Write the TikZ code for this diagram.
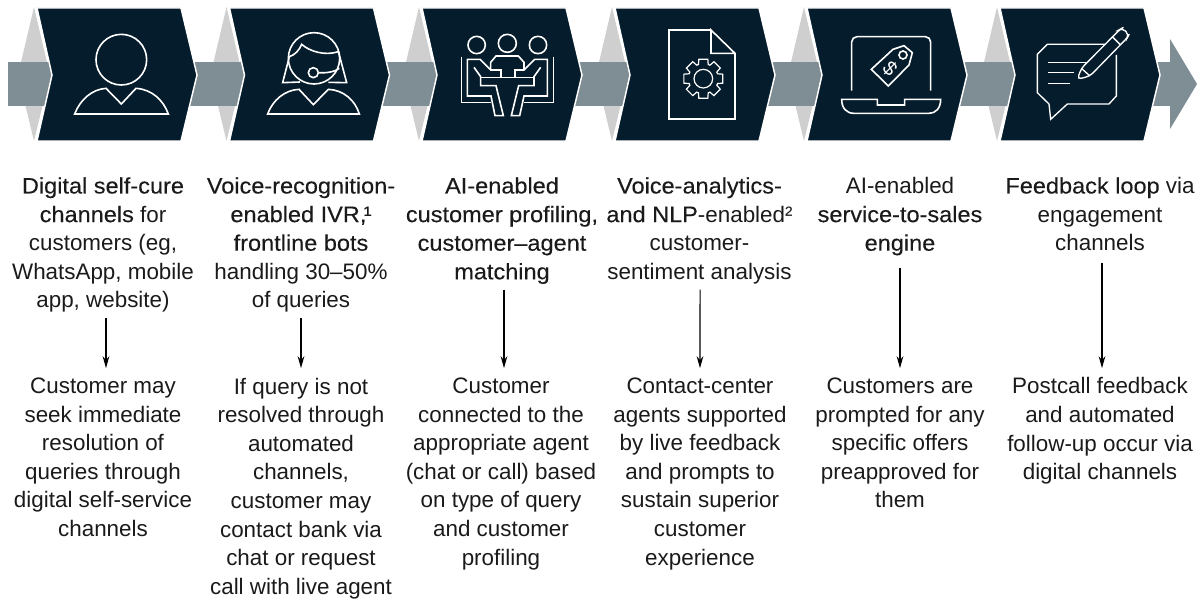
\documentclass[tikz,border=0pt]{standalone}
\usepackage{fontspec}
\usetikzlibrary{arrows.meta}
\setmainfont{Liberation Sans}
\newfontfamily\emfam{Liberation Sans}[FakeBold=0.2,FakeStretch=1.05]
\newcommand{\emf}[1]{{\emfam #1}}
\definecolor{navy}{HTML}{051C2C}
\definecolor{band}{HTML}{7F8D94}
\definecolor{tri}{HTML}{CFCFCF}
\definecolor{txt}{HTML}{1A1A1A}
\begin{document}
\begin{tikzpicture}[x=0.75pt,y=-0.75pt,
  lbl/.style={align=center,font=\fontsize{16.8}{21.45}\selectfont,text=txt,inner sep=0pt,anchor=north},
  arr/.style={-{Stealth[length=9pt,width=5pt]},line width=0.8pt,black},
  ic/.style={draw=white,line width=1.2pt,line join=miter},
  zoomed/.style={x=0.25pt,y=-0.25pt}]
\useasboundingbox (0,0) rectangle (1204,599);
\foreach \o in {0,192.5,385,578,770,963}{
  \begin{scope}[xshift=\o*0.75pt]
  \fill[tri] (34,7)--(18,75)--(34,141)--(50,75)--cycle;
  \end{scope}}
\fill[band] (8,62) rectangle (1170,106.5);
\fill[band] (1170,39)--(1197,84)--(1170,129)--cycle;
\foreach \o in {0,192.5,385,578,770,963}{
  \begin{scope}[xshift=\o*0.75pt]
  \fill[navy,draw=white,line width=1.1pt] (37,8)--(181,8)--(197,75)--(181,141)--(37,141)--(52,75)--cycle;
  \end{scope}}
% icon 1 and 2 (coordinates of a 3x crop at 0,0)
\begin{scope}[zoomed]
\draw[ic] (364,179) circle (76);
\draw[ic] (224,342) .. controls (240,300) and (275,268) .. (318,265)--(364,312)--(408,265) .. controls (455,268) and (490,300) .. (505,342)--cycle;
\draw[ic] (942,175) circle (77);
\draw[ic] (803,342) .. controls (818,300) and (855,270) .. (897,268)--(940,314)--(985,268) .. controls (1030,270) and (1065,300) .. (1078,342)--cycle;
\draw[ic] (900,246)--(848,248)--(868,170) .. controls (885,165) and (898,150) .. (905,133) .. controls (930,155) and (975,168) .. (1015,155)--(1018,165)--(1040,248)--(985,247);
\draw[ic] (940,218) circle (15);
\draw[ic] (955,218) .. controls (980,220) and (1005,215) .. (1018,205);
\end{scope}
% icon 3 (3x crop at 450,25)
\begin{scope}[zoomed,xshift=337.5pt,yshift=-18.75pt]
\draw[ic] (80,60) circle (26);
\draw[ic] (172,55) circle (27);
\draw[ic] (264,60) circle (26);
\draw[ic] (35,95)--(35,233)--(122,233);
\draw[ic] (310,95)--(310,233)--(222,233);
\draw[ic] (153,157)--(153,135)--(122,135)--(90,103)--(52,103)--(52,213)--(123,213)--(135,272)--(160,272)--(138,182)--(92,182)--(92,155)--(72,127);
\draw[ic] (195,157)--(195,135)--(222,135)--(254,103)--(292,103)--(292,213)--(222,213)--(209,272)--(184,272)--(206,182)--(252,182)--(252,155)--(272,127);
\draw[ic] (122,135)--(122,112)--(138,93)--(205,93)--(222,112)--(222,135);
\draw[ic] (92,157)--(252,157);
\end{scope}
% icon 4 (3x crop at 400,0)
\begin{scope}[zoomed,xshift=300pt]
\draw[ic] (933,90)--(807,90)--(807,357)--(1005,357)--(1005,160)--(933,90)--(933,160)--(1005,160);
\begin{scope}[shift={(910,236)}]
\draw[ic,line width=0.9pt] (0:28) arc[start angle=0,end angle=360,radius=28];
\draw[ic,line width=0.9pt] (-13:60) \foreach \a in {0,45,...,315}{ -- (\a-13:60) -- (\a+13:60) -- (\a+19:45) -- (\a+26:45)} -- cycle;
\end{scope}
\end{scope}
% icon 5 and 6 (3x crop at 794,0)
\begin{scope}[zoomed,xshift=595.5pt]
\draw[ic,rounded corners=4pt] (173,272)--(173,110)--(410,110)--(410,272);
\draw[ic] (143,298)--(250,298)--(250,315)--(332,315)--(332,298)--(440,298) .. controls (440,325) and (425,340) .. (405,340)--(180,340) .. controls (158,340) and (143,325) .. (143,298)--cycle;
\draw[ic] (232,208)--(297,148)--(330,137)--(355,158)--(345,195)--(283,258)--cycle;
\draw[ic] (327,165) circle (12);
\node[rotate=-45,text=white,inner sep=0pt,font=\fontsize{15}{15}\selectfont] (dollar) at (288,205) {\$};
\draw[ic,line width=1pt] (935,133)--(760,133)--(730,163)--(730,278)--(765,312)--(770,358)--(820,312)--(945,312)--(967,288)--(967,165);
\draw[ic,line width=1pt,rounded corners=3pt] (850,238)--(862,205)--(978,88)--(985,84)--(1005,104)--(1000,113)--(888,228)--cycle;
\draw[ic,line width=1pt] (955,110)--(980,135);
\draw[ic,line width=1pt] (862,205)--(888,228);
\draw[ic,line width=1pt] (762,188)--(875,188);
\draw[ic,line width=1pt] (762,218)--(840,218);
\draw[ic,line width=1pt] (762,250)--(828,250);
\end{scope}
% upper texts
\node[lbl] (t1) at (103,177) {\emf{Digital self-cure}\\\emf{channels} for\\customers (eg,\\WhatsApp, mobile\\app, website)};
\node[lbl] (t2) at (301,177) {\emf{Voice-recognition-}\\\emf{enabled IVR,\kern-0.12em¹}\\\emf{frontline bots}\\handling 30–50\%\\of queries};
\node[lbl] (t3) at (502,177) {\emf{AI-enabled}\\\emf{customer profiling,}\\\emf{customer–agent}\\\emf{matching}};
\node[lbl] (t4) at (699.5,177) {\emf{Voice-analytics-}\\\emf{and NLP}-enabled²\\customer-\\sentiment analysis};
\node[lbl] (t5) at (900,177) {AI-enabled\\\emf{service-to-sales}\\\emf{engine}};
\node[lbl] (t6) at (1100,177) {\emf{Feedback loop} via\\engagement\\channels};
% lower texts
\node[lbl] (b1) at (103,377.5) {Customer may\\seek immediate\\resolution of\\queries through\\digital self-service\\channels};
\node[lbl] (b2) at (301,377.5) {If query is not\\resolved through\\automated\\channels,\\customer may\\contact bank via\\chat or request\\call with live agent};
\node[lbl] (b3) at (501,377.5) {Customer\\connected to the\\appropriate agent\\(chat or call) based\\on type of query\\and customer\\profiling};
\node[lbl] (b4) at (700,377.5) {Contact-center\\agents supported\\by live feedback\\and prompts to\\sustain superior\\customer\\experience};
\node[lbl] (b5) at (900,377.5) {Customers are\\prompted for any\\specific offers\\preapproved for\\them};
\node[lbl] (b6) at (1100,377.5) {Postcall feedback\\and automated\\follow-up occur via\\digital channels};
% connectors
\draw[arr] ([xshift=2.25pt,yshift=-4pt]t1.south) -- ([xshift=2.25pt,yshift=7pt]b1.north);
\draw[arr] ([yshift=-4pt]t2.south) -- ([yshift=7pt]b2.north);
\draw[arr] ([xshift=1.5pt,yshift=-4pt]t3.south) -- ([xshift=2.25pt,yshift=7pt]b3.north);
\draw[arr] ([xshift=0.4pt,yshift=-4pt]t4.south) -- ([yshift=7pt]b4.north);
\draw[arr] ([yshift=-9pt]t5.south) -- ([yshift=7pt]b5.north);
\draw[arr] ([xshift=1.5pt,yshift=-8.5pt]t6.south) -- ([xshift=1.5pt,yshift=7pt]b6.north);
\end{tikzpicture}
\end{document}
